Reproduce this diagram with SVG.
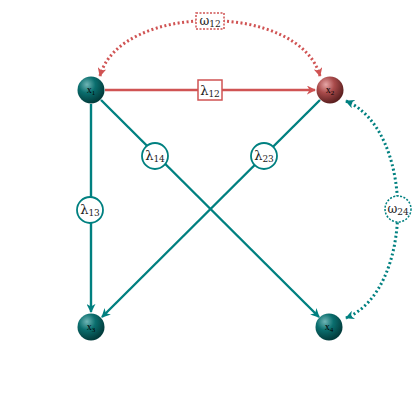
<svg xmlns="http://www.w3.org/2000/svg" width="420" height="420" viewBox="0 0 420 420">
<defs>
<radialGradient id="gT" cx="35%" cy="30%" r="70%">
<stop offset="0" stop-color="#6fb5b5"/>
<stop offset="0.45" stop-color="#0a6e6e"/>
<stop offset="1" stop-color="#023c3c"/>
</radialGradient>
<radialGradient id="gR" cx="35%" cy="30%" r="70%">
<stop offset="0" stop-color="#e6a6a6"/>
<stop offset="0.45" stop-color="#a94b4b"/>
<stop offset="1" stop-color="#5c2020"/>
</radialGradient>
<marker id="aT" viewBox="0 0 10 10" refX="9" refY="5" markerWidth="9" markerHeight="9" markerUnits="userSpaceOnUse" orient="auto-start-reverse">
<path d="M0,0 L10,5 L0,10 L3,5 Z" fill="#008080"/>
</marker>
<marker id="aR" viewBox="0 0 10 10" refX="9" refY="5" markerWidth="9" markerHeight="9" markerUnits="userSpaceOnUse" orient="auto-start-reverse">
<path d="M0,0 L10,5 L0,10 L3,5 Z" fill="#d05353"/>
</marker>
</defs>
<style>
.t{stroke:#008080;stroke-width:2.4;fill:none}
.r{stroke:#d05353;stroke-width:2.4;fill:none}
.dt{stroke:#008080;stroke-width:3;fill:none;stroke-dasharray:2 2.5}
.dr{stroke:#d05353;stroke-width:3;fill:none;stroke-dasharray:2 2.5}
.lab{font-family:"DejaVu Serif","Liberation Serif",serif;font-size:13px;fill:#222}
.sub{font-size:9px}
.nl{font-family:"Liberation Serif",serif;font-size:10px;fill:#000}
.nsub{font-size:7px}
</style>
<g id="connectors">
<path class="dr" d="M100,76 C120,2 300,2 320,76" marker-start="url(#aR)" marker-end="url(#aR)"/>
<path class="dt" d="M346,101 C415,130 415,290 346,318" marker-start="url(#aT)" marker-end="url(#aT)"/>
<line class="r" x1="105" y1="90" x2="315" y2="90" marker-end="url(#aR)"/>
<line class="t" x1="91" y1="104" x2="91" y2="312" marker-end="url(#aT)"/>
<line class="t" x1="101" y1="100" x2="319" y2="317" marker-end="url(#aT)"/>
<line class="t" x1="320" y1="100" x2="102" y2="317" marker-end="url(#aT)"/>
</g>
<g id="label-w12">
<rect x="196" y="13" width="28" height="16" fill="#fff" stroke="#d05353" stroke-width="1.5" stroke-dasharray="2 1.5"/>
<text class="lab" x="210" y="25" text-anchor="middle" style="font-size:12px">ω<tspan class="sub" dy="2">12</tspan></text>
</g>
<g id="label-w24">
<circle cx="398" cy="209" r="13" fill="#fff" stroke="#008080" stroke-width="1.5" stroke-dasharray="2 1.5"/>
<text class="lab" x="398" y="213" text-anchor="middle" style="font-size:12px">ω<tspan class="sub" dy="2">24</tspan></text>
</g>
<g id="label-l12">
<rect x="198" y="80" width="24" height="20" fill="#fff" stroke="#d05353" stroke-width="1.5"/>
<text class="lab" x="210" y="95" text-anchor="middle">λ<tspan class="sub" dy="2">12</tspan></text>
</g>
<g id="label-l13">
<circle cx="90" cy="210" r="13" fill="#fff" stroke="#008080" stroke-width="1.8"/>
<text class="lab" x="90" y="214" text-anchor="middle">λ<tspan class="sub" dy="2">13</tspan></text>
</g>
<g id="label-l14">
<circle cx="155" cy="156" r="13" fill="#fff" stroke="#008080" stroke-width="1.8"/>
<text class="lab" x="155" y="160" text-anchor="middle">λ<tspan class="sub" dy="2">14</tspan></text>
</g>
<g id="label-l23">
<circle cx="264" cy="156" r="13" fill="#fff" stroke="#008080" stroke-width="1.8"/>
<text class="lab" x="264" y="160" text-anchor="middle">λ<tspan class="sub" dy="2">23</tspan></text>
</g>
<g id="x1">
<circle cx="91" cy="90" r="13.5" fill="url(#gT)"/>
<text class="nl" x="91" y="93" text-anchor="middle">x<tspan class="nsub" dy="1.5">1</tspan></text>
</g>
<g id="x2">
<circle cx="330" cy="90" r="13.5" fill="url(#gR)"/>
<text class="nl" x="330" y="93" text-anchor="middle">x<tspan class="nsub" dy="1.5">2</tspan></text>
</g>
<g id="x3">
<circle cx="91" cy="327" r="13.5" fill="url(#gT)"/>
<text class="nl" x="91" y="330" text-anchor="middle">x<tspan class="nsub" dy="1.5">3</tspan></text>
</g>
<g id="x4">
<circle cx="329" cy="327" r="13.5" fill="url(#gT)"/>
<text class="nl" x="329" y="330" text-anchor="middle">x<tspan class="nsub" dy="1.5">4</tspan></text>
</g>
</svg>
